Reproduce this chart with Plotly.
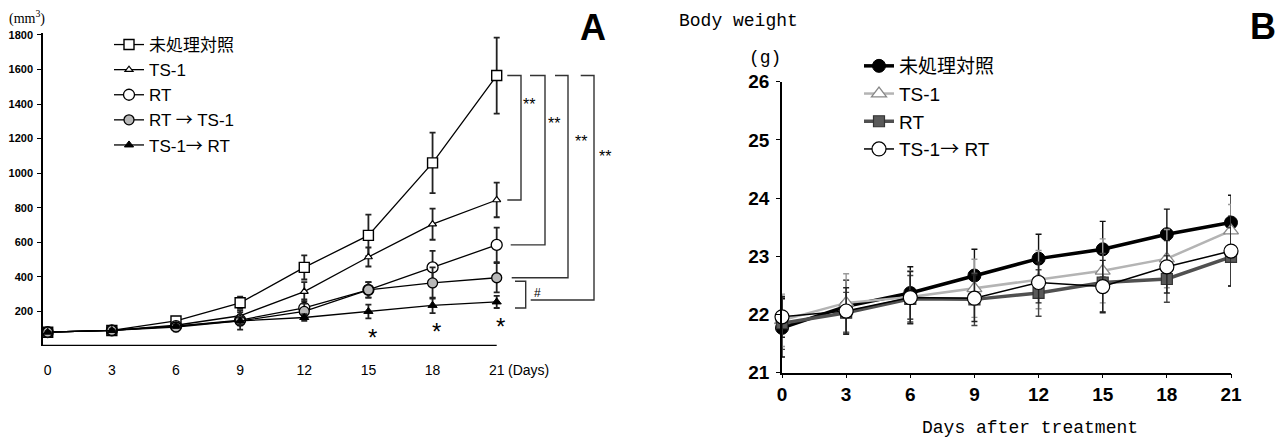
import plotly.graph_objects as go

# ---------------- data ----------------
days = [0, 3, 6, 9, 12, 15, 18, 21]
day_ticks = [0, 3, 6, 9, 12, 15, 18, 21]

# Panel A: tumour volume (mm3)
vol_control = [80, 90, 145, 250, 455, 640, 1060, 1565]
vol_control_err = [8, 8, 15, 35, 70, 120, 175, 220]
vol_ts1 = [80, 90, 120, 175, 315, 515, 705, 845]
vol_ts1_err = [6, 8, 15, 30, 55, 55, 90, 100]
vol_rt = [80, 90, 115, 150, 220, 325, 455, 585]
vol_rt_err = [6, 8, 15, 30, 50, 45, 95, 100]
vol_rt_ts1 = [80, 90, 110, 145, 200, 325, 365, 395]
vol_rt_ts1_err = [6, 8, 25, 50, 45, 45, 90, 85]
vol_ts1_rt = [80, 90, 115, 145, 165, 200, 235, 255]
vol_ts1_rt_err = [6, 8, 10, 20, 20, 40, 45, 35]
vol_yticks = [200, 400, 600, 800, 1000, 1200, 1400, 1600, 1800]

# significance asterisks (x in days, y in mm3)
sig_days = [15, 18, 21]
sig_y = [50, 85, 115]

# Panel B: body weight (g)
w_control = [21.77, 22.14, 22.37, 22.67, 22.96, 23.12, 23.38, 23.58]
w_control_err = [0.5, 0.45, 0.45, 0.45, 0.42, 0.48, 0.43, 0.47]
w_ts1 = [21.9, 22.2, 22.3, 22.45, 22.6, 22.75, 22.96, 23.44]
w_ts1_err = [0.45, 0.5, 0.45, 0.5, 0.5, 0.55, 0.5, 0.45]
w_rt = [21.85, 22.03, 22.27, 22.26, 22.37, 22.55, 22.61, 22.99]
w_rt_err = [0.45, 0.35, 0.4, 0.45, 0.4, 0.5, 0.4, 0.5]
w_ts1_rt = [21.96, 22.06, 22.29, 22.28, 22.55, 22.48, 22.82, 23.09]
w_ts1_rt_err = [0.35, 0.4, 0.45, 0.4, 0.35, 0.45, 0.45, 0.6]
w_yticks = [21, 22, 23, 24, 25, 26]

ARROW = "<span style='font-family:Noto Sans CJK JP'>→</span>"
names_a = ["未処理対照", "TS-1", "RT", "RT " + ARROW + " TS-1", "TS-1" + ARROW + " RT"]
names_b = ["未処理対照", "TS-1", "RT", "TS-1" + ARROW + " RT"]

W, H = 1276, 439
def px(x):
    return x / W
def py(y):
    return (H - y) / H

fig = go.Figure()

# ---------------- Panel A traces ----------------
a_series = [
    (vol_control, vol_control_err, dict(symbol="square", size=10, color="white", line=dict(color="black", width=1.4))),
    (vol_ts1, vol_ts1_err, dict(symbol="triangle-up", size=7, color="white", line=dict(color="black", width=1.2))),
    (vol_rt, vol_rt_err, dict(symbol="circle", size=11, color="white", line=dict(color="black", width=1.3))),
    (vol_rt_ts1, vol_rt_ts1_err, dict(symbol="circle", size=10, color="#b8b8b8", line=dict(color="black", width=1.3))),
    (vol_ts1_rt, vol_ts1_rt_err, dict(symbol="triangle-up", size=8, color="black", line=dict(color="black", width=1))),
]
for name, (vals, errs, mk) in zip(names_a, a_series):
    fig.add_trace(go.Scatter(
        x=days, y=vals, name=name, mode="lines+markers",
        line=dict(color="black", width=1.3), marker=mk,
        error_y=dict(type="data", array=errs, visible=True, color="#222", thickness=1.8, width=3),
        xaxis="x", yaxis="y", legend="legend", cliponaxis=False,
    ))

# ---------------- Panel B traces ----------------
b_series = [
    (w_control, w_control_err, dict(color="black", width=3.5),
     dict(symbol="circle", size=13, color="black", line=dict(color="black", width=1)), "#111"),
    (w_ts1, w_ts1_err, dict(color="#b4b4b4", width=2.5),
     dict(symbol="triangle-up", size=13, color="white", line=dict(color="#888", width=1.3)), "#999"),
    (w_rt, w_rt_err, dict(color="#505050", width=3.5),
     dict(symbol="square", size=11, color="#5a5a5a", line=dict(color="#333", width=1.2)), "#444"),
    (w_ts1_rt, w_ts1_rt_err, dict(color="black", width=1.5),
     dict(symbol="circle", size=14, color="white", line=dict(color="black", width=1.2)), "#222"),
]
for name, (vals, errs, ln, mk, ec) in zip(names_b, b_series):
    fig.add_trace(go.Scatter(
        x=days, y=vals, name=name, mode="lines+markers",
        line=ln, marker=mk,
        error_y=dict(type="data", array=errs, visible=True, color=ec, thickness=1.4, width=3),
        xaxis="x2", yaxis="y2", legend="legend2", cliponaxis=False,
    ))

# ---------------- axes ----------------
a_x0, a_x21 = 43, 496.7
a_perday = (a_x21 - 47.7) / 21.0
a_right_px = 620
a_range = [-(47.7 - a_x0) / a_perday, 21 + (a_right_px - a_x21) / a_perday]

fig.update_layout(
    width=W, height=H, margin=dict(l=0, r=0, t=0, b=0, autoexpand=False),
    paper_bgcolor="white", plot_bgcolor="rgba(0,0,0,0)",
    font=dict(family="Liberation Sans, Arial, sans-serif", color="black"),
    xaxis=dict(domain=[px(a_x0), px(a_right_px)], range=a_range, anchor="y", automargin=False,
               showgrid=False, zeroline=False, showline=False,
               tickvals=day_ticks, ticktext=[str(d) for d in day_ticks],
               ticks="", tickfont=dict(size=14, family="Liberation Sans"),
               ticklabelstandoff=14),
    yaxis=dict(domain=[py(346), py(346 - 1812 * 0.1728)], range=[0, 1812], anchor="x", automargin=False,
               showgrid=False, zeroline=False, showline=True, linecolor="black", linewidth=1.5,
               tickvals=vol_yticks, ticks="outside", ticklen=4, tickcolor="black",
               tickfont=dict(size=11, family="Liberation Sans", weight="bold"),
               ticklabelstandoff=2),
    xaxis2=dict(domain=[px(782), px(1231)], range=[0, 21], anchor="y2", automargin=False,
                showgrid=False, zeroline=False, showline=True, linecolor="black", linewidth=1.5,
                tickvals=day_ticks, ticks="outside", ticklen=4, tickcolor="black",
                tickfont=dict(size=19, family="Liberation Sans", weight="bold"),
                ticklabelstandoff=0),
    yaxis2=dict(domain=[py(372.7), py(372.7 - 5 * 58.2)], range=[21, 26], anchor="x2", automargin=False,
                showgrid=False, zeroline=False, showline=True, linecolor="black", linewidth=1.5,
                tickvals=w_yticks, ticks="outside", ticklen=4, tickcolor="black",
                tickfont=dict(size=19, family="Liberation Sans", weight="bold"),
                ticklabelstandoff=3),
    legend=dict(x=px(109), y=py(27), xanchor="left", yanchor="top",
                bgcolor="rgba(0,0,0,0)", borderwidth=0,
                font=dict(size=17, family="Liberation Sans, Noto Sans CJK JP"),
                tracegroupgap=0, itemclick=False, itemdoubleclick=False),
    legend2=dict(x=px(859), y=py(47), xanchor="left", yanchor="top",
                 bgcolor="rgba(0,0,0,0)", borderwidth=0,
                 font=dict(size=19, family="Liberation Sans, Noto Sans CJK JP"),
                 tracegroupgap=0, itemclick=False, itemdoubleclick=False),
)

# x-axis line of panel A (only over the 0..21 part)
fig.add_shape(type="line", xref="x", yref="y", x0=a_range[0], x1=21, y0=0, y1=0,
              line=dict(color="black", width=2.5))
for d in day_ticks:
    fig.add_shape(type="line", xref="x", yref="y", x0=d, x1=d, y0=0, y1=-25,
                  line=dict(color="black", width=1.2))

# significance brackets in panel A
def d_at(xpix):
    return 21 + (xpix - a_x21) / a_perday

top = vol_control[-1]
brackets = [
    # (x_left_top, x_vert, x_left_bottom, y_bottom, label_x, label_y)
    (507.3, 521.0, 507.3, vol_ts1[-1], 529, 1395),
    (530.0, 545.0, 510.7, vol_rt[-1], 554, 1285),
    (555.0, 568.0, 511.7, vol_rt_ts1[-1], 581, 1186),
    (580.7, 594.0, 530.7, 266, 605, 1095),
]
for xl, xv, xb, yb, lx, ly in brackets:
    fig.add_shape(type="path", xref="x", yref="y",
                  path=f"M {d_at(xl)},{top} L {d_at(xv)},{top} L {d_at(xv)},{yb} L {d_at(xb)},{yb}",
                  line=dict(color="#333", width=1.4))
    fig.add_annotation(x=d_at(lx), y=ly, xref="x", yref="y", text="**", showarrow=False,
                       xanchor="center", yanchor="middle",
                       font=dict(size=16, family="Liberation Sans"))
# '#' bracket between RT->TS-1 and TS-1->RT
fig.add_shape(type="path", xref="x", yref="y",
              path=f"M {d_at(515)},{vol_rt_ts1[-1] - 20} L {d_at(525.7)},{vol_rt_ts1[-1] - 20} "
                   f"L {d_at(525.7)},{vol_ts1_rt[-1] - 35} L {d_at(515)},{vol_ts1_rt[-1] - 35}",
              line=dict(color="#333", width=1.4))
fig.add_annotation(x=d_at(537.7), y=307, xref="x", yref="y", text="#", showarrow=False,
                   xanchor="center", yanchor="middle",
                   font=dict(size=12, family="Liberation Sans"))
for d, yv in zip(sig_days, sig_y):
    fig.add_annotation(x=d + 0.2, y=yv, xref="x", yref="y", text="*", showarrow=False,
                       xanchor="center", yanchor="middle",
                       font=dict(size=24, family="Liberation Sans"))

# texts
def note(x, y, text, size, family, xanchor="center"):
    fig.add_annotation(x=px(x), y=py(y), xref="paper", yref="paper", text=text,
                       showarrow=False, xanchor=xanchor, yanchor="middle",
                       font=dict(size=size, family=family))

fig.add_annotation(x=21.45, y=0, xref="x", yref="y", yshift=-24, text="(Days)", showarrow=False,
                   xanchor="left", yanchor="middle", font=dict(size=14, family="Liberation Sans"))
note(7, 18, "(mm<sup>3</sup>)", 14, "Liberation Serif", xanchor="left")
note(593, 27, "<b>A</b>", 36, "Liberation Sans")
note(1263, 26, "<b>B</b>", 36, "Liberation Sans")
note(677, 21, "Body weight", 18, "Liberation Mono", xanchor="left")
note(765, 58, "(g)", 18, "Liberation Mono")
note(1030, 428, "Days after treatment", 18, "Liberation Mono")

# the page's default body margin would offset the figure; remove it
fig.write_html("out.html", config={"displayModeBar": False},
               post_script="document.body.style.margin='0';document.body.style.padding='0';")
